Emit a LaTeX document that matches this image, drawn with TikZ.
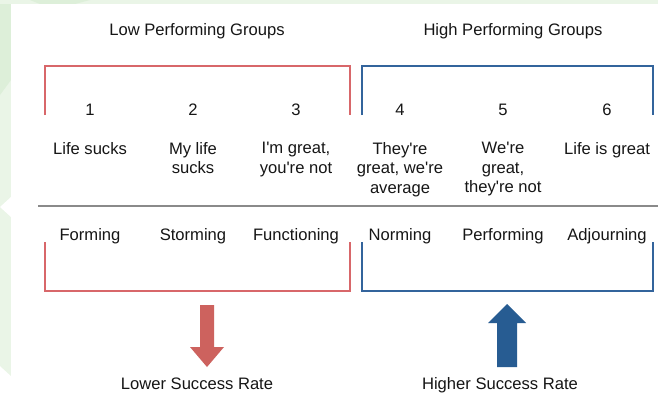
\documentclass[tikz,border=0pt]{standalone}
\usepackage{fontspec}
\setmainfont{Liberation Sans}[Ligatures=TeXOff]
\definecolor{lowred}{HTML}{D8676A}
\definecolor{lowarrow}{HTML}{CD625E}
\definecolor{highblue}{HTML}{33649C}
\definecolor{higharrow}{HTML}{275C92}
\definecolor{rule}{HTML}{8A8A8A}
\definecolor{mint}{HTML}{EAF5E7}
\definecolor{mintdark}{HTML}{DDEFD9}
\definecolor{ink}{HTML}{161616}
\begin{document}
\begin{tikzpicture}[x=1pt,y=-1pt,
  lbl/.style={font=\fontsize{16.6}{19.5}\selectfont, inner sep=0pt, text=ink},
  cell/.style={lbl, align=center, anchor=north},
  num/.style={lbl, anchor=base},
  bracket/.style={line width=2.4pt, line cap=butt, line join=miter},
]
\useasboundingbox (0,0) rectangle (658,394);

% soft green backdrop at the margins
\fill[mint] (0,0) rectangle (658,4);
\fill[mint] (0,0) -- (11,0) -- (11,376) -- (0,366) -- cycle;
\fill[mintdark] (0,4) -- (11,4) -- (11,80) -- (0,95) -- cycle;
\fill[mintdark] (30,0) -- (90,0) -- (75,4) -- (40,4) -- cycle;
\fill[white] (0,207) -- (11,197) -- (11,217) -- cycle;
\fill[white] (11,4) rectangle (658,394);

% group headings
\node[num] (lowhead)  at (197,35) {Low Performing Groups};
\node[num] (highhead) at (513,35) {High Performing Groups};

% upper brackets
\draw[bracket, lowred]   (45,115) coordinate (lta) |- (350,66) coordinate (ltb) -- (350,115) coordinate (ltc);
\draw[bracket, highblue] (362,115) coordinate (hta) |- (653,66) coordinate (htb) -- (653,115) coordinate (htc);

% stage numbers
\foreach \i/\x in {1/90,2/193,3/296,4/400,5/503,6/607}
  \node[num] (n\i) at (\x,115) {\i};

% attitudes
\node[cell] (a1) at (90,142)  {Life sucks};
\node[cell] (a2) at (193,142) {My life\\sucks};
\node[cell] (a3) at (296,142) {I'm great,\\you're not};
\node[cell] (a4) at (400,142) {They're\\great, we're\\average};
\node[cell] (a5) at (503,142) {We're\\great,\\they're not};
\node[cell] (a6) at (607,142) {Life is great};

% dividing rule
\coordinate (ruleL) at (38,206);
\coordinate (ruleR) at (658,206);
\draw[rule, line width=1.6pt] (ruleL) -- (ruleR);

% stage names
\node[num] (s1) at (90,240)  {Forming};
\node[num] (s2) at (193,240) {Storming};
\node[num] (s3) at (296,240) {Functioning};
\node[num] (s4) at (400,240) {Norming};
\node[num] (s5) at (503,240) {Performing};
\node[num] (s6) at (607,240) {Adjourning};

% lower brackets
\draw[bracket, lowred]   (45,242) |- (350,291) -- (350,242);
\draw[bracket, highblue] (362,242) |- (653,291) -- (653,242);

% outcome arrows
\fill[lowarrow] (200,305) -- (214,305) -- (214,347) -- (224,347) -- (207,367)
  -- (190,347) -- (200,347) -- cycle;
\fill[higharrow] (497,367) -- (517,367) -- (517,323) -- (526,323) -- (507,304)
  -- (488,323) -- (497,323) -- cycle;

% outcomes
\node[num] (lowres)  at (197,389) {Lower Success Rate};
\node[num] (highres) at (500,389) {Higher Success Rate};
\end{tikzpicture}
\end{document}
